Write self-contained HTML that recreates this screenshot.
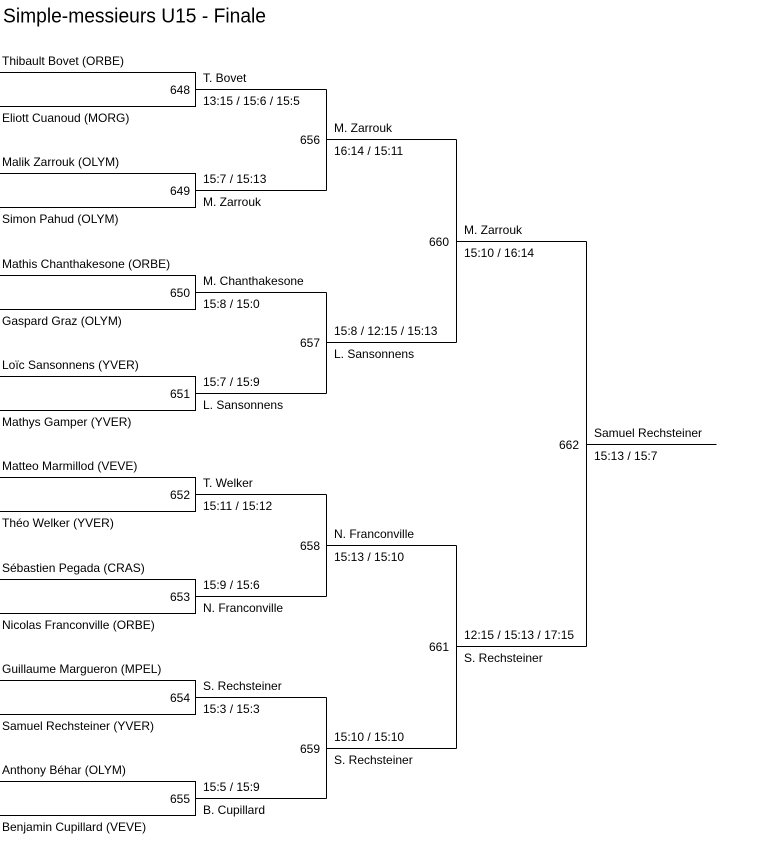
<!DOCTYPE html>
<html><head><meta charset="utf-8"><style>
html,body{margin:0;padding:0;background:#fff;}
svg{display:block;}
text{font-family:"Liberation Sans",Arial,sans-serif;fill:#000;}
.t{font-size:12px;}
.n{font-size:12px;text-anchor:end;}
</style></head><body>
<svg width="783" height="842" viewBox="0 0 783 842" xmlns="http://www.w3.org/2000/svg">
<rect width="783" height="842" fill="#fff"/>
<text x="3" y="22.5" font-size="20" textLength="263" lengthAdjust="spacingAndGlyphs">Simple-messieurs U15 - Finale</text>
<g stroke="#000" stroke-width="1" fill="none" shape-rendering="crispEdges">
<path d="M0 72.5H195.5V106.5H0 M195.5 89.5H326.5"/>
<path d="M0 173.5H195.5V207.5H0 M195.5 190.5H326.5"/>
<path d="M0 275.5H195.5V309.5H0 M195.5 292.5H326.5"/>
<path d="M0 376.5H195.5V410.5H0 M195.5 393.5H326.5"/>
<path d="M0 477.5H195.5V511.5H0 M195.5 494.5H326.5"/>
<path d="M0 579.5H195.5V613.5H0 M195.5 596.5H326.5"/>
<path d="M0 680.5H195.5V714.5H0 M195.5 697.5H326.5"/>
<path d="M0 781.5H195.5V815.5H0 M195.5 798.5H326.5"/>
<path d="M326.5 89.5V190.5 M326.5 139.5H456.5"/>
<path d="M326.5 292.5V393.5 M326.5 342.5H456.5"/>
<path d="M326.5 494.5V596.5 M326.5 545.5H456.5"/>
<path d="M326.5 697.5V798.5 M326.5 748.5H456.5"/>
<path d="M456.5 139.5V342.5 M456.5 241.5H586.5"/>
<path d="M456.5 545.5V748.5 M456.5 646.5H586.5"/>
<path d="M586.5 241.5V646.5 M586.5 444.5H716.5"/>
</g>
<g class="t">
<text x="2" y="65">Thibault Bovet (ORBE)</text>
<text x="2" y="122">Eliott Cuanoud (MORG)</text>
<text x="2" y="166">Malik Zarrouk (OLYM)</text>
<text x="2" y="223">Simon Pahud (OLYM)</text>
<text x="2" y="268">Mathis Chanthakesone (ORBE)</text>
<text x="2" y="325">Gaspard Graz (OLYM)</text>
<text x="2" y="369">Loïc Sansonnens (YVER)</text>
<text x="2" y="426">Mathys Gamper (YVER)</text>
<text x="2" y="470">Matteo Marmillod (VEVE)</text>
<text x="2" y="527">Théo Welker (YVER)</text>
<text x="2" y="572">Sébastien Pegada (CRAS)</text>
<text x="2" y="629">Nicolas Franconville (ORBE)</text>
<text x="2" y="673">Guillaume Margueron (MPEL)</text>
<text x="2" y="730">Samuel Rechsteiner (YVER)</text>
<text x="2" y="774">Anthony Béhar (OLYM)</text>
<text x="2" y="831">Benjamin Cupillard (VEVE)</text>
<text x="203" y="82">T. Bovet</text>
<text x="203" y="105">13:15 / 15:6 / 15:5</text>
<text x="203" y="183">15:7 / 15:13</text>
<text x="203" y="206">M. Zarrouk</text>
<text x="203" y="285">M. Chanthakesone</text>
<text x="203" y="308">15:8 / 15:0</text>
<text x="203" y="386">15:7 / 15:9</text>
<text x="203" y="409">L. Sansonnens</text>
<text x="203" y="487">T. Welker</text>
<text x="203" y="510">15:11 / 15:12</text>
<text x="203" y="589">15:9 / 15:6</text>
<text x="203" y="612">N. Franconville</text>
<text x="203" y="690">S. Rechsteiner</text>
<text x="203" y="713">15:3 / 15:3</text>
<text x="203" y="791">15:5 / 15:9</text>
<text x="203" y="814">B. Cupillard</text>
<text x="334" y="132">M. Zarrouk</text>
<text x="334" y="155">16:14 / 15:11</text>
<text x="334" y="335">15:8 / 12:15 / 15:13</text>
<text x="334" y="358">L. Sansonnens</text>
<text x="334" y="538">N. Franconville</text>
<text x="334" y="561">15:13 / 15:10</text>
<text x="334" y="741">15:10 / 15:10</text>
<text x="334" y="764">S. Rechsteiner</text>
<text x="464" y="234">M. Zarrouk</text>
<text x="464" y="257">15:10 / 16:14</text>
<text x="464" y="639">12:15 / 15:13 / 17:15</text>
<text x="464" y="662">S. Rechsteiner</text>
<text x="594" y="437">Samuel Rechsteiner</text>
<text x="594" y="460">15:13 / 15:7</text>
</g>
<g class="n">
<text x="190" y="94">648</text>
<text x="190" y="195">649</text>
<text x="190" y="297">650</text>
<text x="190" y="398">651</text>
<text x="190" y="499">652</text>
<text x="190" y="601">653</text>
<text x="190" y="702">654</text>
<text x="190" y="803">655</text>
<text x="320" y="144">656</text>
<text x="320" y="347">657</text>
<text x="320" y="550">658</text>
<text x="320" y="753">659</text>
<text x="449" y="246">660</text>
<text x="449" y="651">661</text>
<text x="579" y="449">662</text>
</g>
</svg>
</body></html>
